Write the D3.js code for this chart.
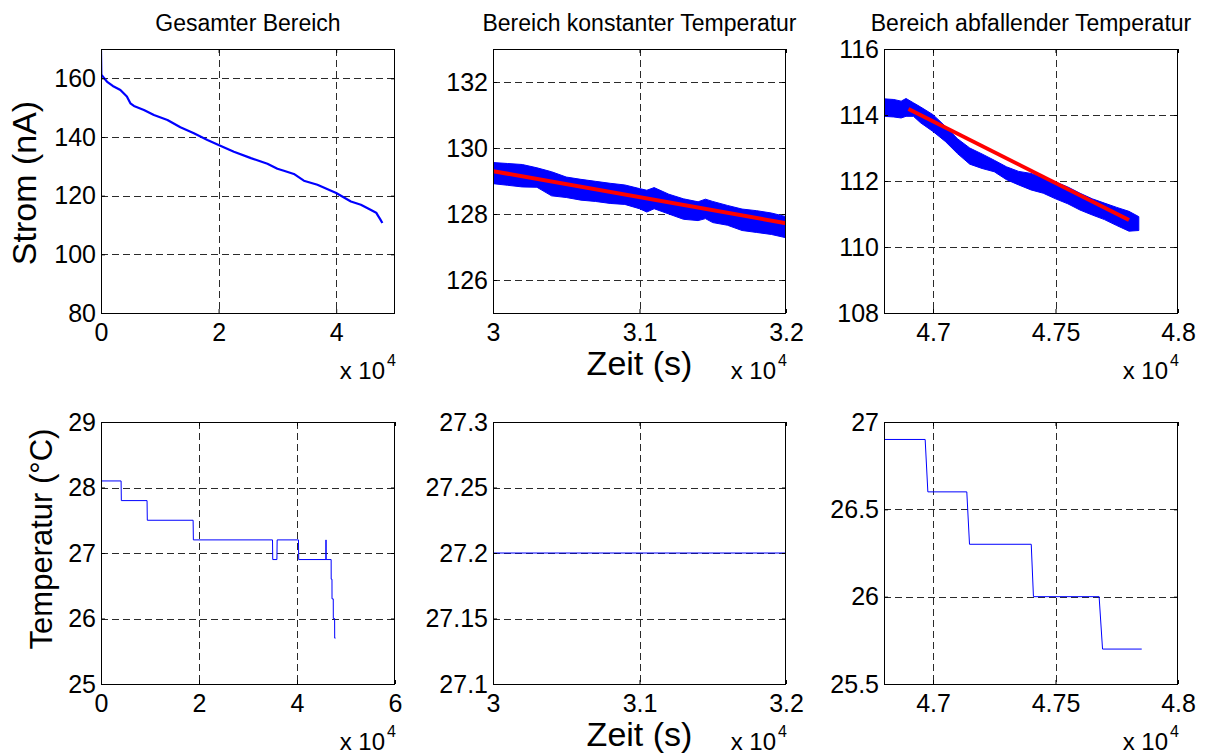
<!DOCTYPE html>
<html>
<head>
<meta charset="utf-8">
<script src="https://cdn.jsdelivr.net/npm/d3@7"></script>
<style>
  html, body { margin: 0; padding: 0; background: #fff; }
  svg { display: block; font-family: "Liberation Sans", Arial, Helvetica, sans-serif; }
</style>
</head>
<body>
<svg id="chart" width="1205" height="755"></svg>
<script>
// ---- measured current over the whole run (time in s, current in nA)
const stromZeit = [0, 60, 1000, 2000, 3300, 4400, 5000, 5600, 7300, 9000, 11300, 13500,
  15800, 18100, 20000, 22600, 25500, 28300, 30000, 31100, 32800, 34500, 36800, 40000,
  42500, 44200, 46000, 46800, 47100, 47500, 47850];
const stromWert = [169.5, 161.2, 158.9, 157.4, 156.0, 153.8, 151.5, 150.6, 149.2, 147.5, 145.8, 143.3,
  141.3, 139.0, 137.3, 135.0, 132.8, 130.9, 129.2, 128.5, 127.4, 125.1, 123.7, 120.9,
  118.0, 116.9, 115.0, 114.2, 113.2, 111.9, 110.7];

// ---- constant-temperature window: min/max envelope of the current and linear fit
const konstZeit = [30000, 30100, 30200, 30300, 30400, 30500, 30600, 30700, 30800, 30900, 31000, 31050,
  31100, 31200, 31300, 31400, 31450, 31500, 31600, 31700, 31800, 31900, 32000];
const konstOben = [129.56, 129.53, 129.50, 129.40, 129.28, 129.12, 129.05, 128.99, 128.93, 128.88, 128.77, 128.72,
  128.80, 128.60, 128.46, 128.37, 128.45, 128.38, 128.26, 128.15, 128.10, 128.03, 127.92];
const konstUnten = [128.92, 128.87, 128.82, 128.81, 128.55, 128.50, 128.42, 128.38, 128.32, 128.29, 128.16, 128.06,
  128.16, 128.00, 127.84, 127.80, 127.86, 127.74, 127.66, 127.50, 127.44, 127.38, 127.28];
const konstFitZeit = [30000, 32000];
const konstFitWert = [129.30, 127.72];

// ---- falling-temperature window: min/max envelope of the current and linear fit
const abfZeit = [46800, 46840, 46870, 46890, 46920, 46950, 47000, 47050, 47100, 47150, 47200, 47250,
  47300, 47350, 47400, 47450, 47500, 47550, 47600, 47650, 47700, 47750, 47800, 47840];
const abfOben = [114.49, 114.47, 114.42, 114.50, 114.37, 114.24, 114.01, 113.66, 113.28, 113.00, 112.82, 112.63,
  112.43, 112.29, 112.23, 112.10, 111.97, 111.82, 111.63, 111.46, 111.33, 111.20, 111.08, 110.92];
const abfUnten = [113.96, 113.94, 113.91, 113.96, 113.96, 113.76, 113.50, 113.20, 112.83, 112.51, 112.38, 112.28,
  112.04, 111.88, 111.73, 111.63, 111.46, 111.31, 111.12, 110.97, 110.83, 110.65, 110.48, 110.50];
const abfFitZeit = [46900, 47800];
const abfFitWert = [114.18, 110.82];

// ---- measured temperature (time in s, temperature in °C)
const tempZeit = [0, 4100, 4150, 9400, 9450, 18800, 18850, 35000, 35050, 35900, 35950, 40300,
  40350, 45900, 45920, 45940, 46968, 46979, 47138, 47149, 47401, 47410, 47678, 47692, 47852];
const tempWert = [28.1, 28.1, 27.8, 27.8, 27.5, 27.5, 27.2, 27.2, 26.9, 26.9, 27.2, 27.2,
  26.9, 26.9, 27.2, 26.9, 26.9, 26.6, 26.6, 26.3, 26.3, 26.0, 26.0, 25.7, 25.7];

// ---- panel titles, axis ranges and tick values
const titles = ["Gesamter Bereich", "Bereich konstanter Temperatur", "Bereich abfallender Temperatur"];
const xDomainsTop = [[0, 50000], [30000, 32000], [46800, 48000]];
const xTicksTop = [[0, 20000, 40000], [30000, 31000, 32000], [47000, 47500, 48000]];
const xDomainsBottom = [[0, 60000], [30000, 32000], [46800, 48000]];
const xTicksBottom = [[0, 20000, 40000, 60000], [30000, 31000, 32000], [47000, 47500, 48000]];
const yDomainsTop = [[80, 170], [125, 133], [108, 116]];
const yTicksTop = [[80, 100, 120, 140, 160], [126, 128, 130, 132], [108, 110, 112, 114, 116]];
const yDomainsBottom = [[25, 29], [27.1, 27.3], [25.5, 27]];
const yTicksBottom = [[25, 26, 27, 28, 29], [27.1, 27.15, 27.2, 27.25, 27.3], [25.5, 26, 26.5, 27]];

// ---- layout
const colX = [[101, 395], [493, 786], [884, 1178]];
const rowY = [[49, 313], [422, 684]];
const TICK_FONT = 25;
const BLUE = "#0000ff";

const svg = d3.select("#chart");
const zip = (a, b) => a.map((v, i) => [v, b[i]]);

const fmtX = d => String(+(d / 1e4).toFixed(6));
const fmtY = d => String(+d.toFixed(6));

function panel(id, col, row, xDom, xTicks, yDom, yTicks) {
  const [x0, x1] = colX[col];
  const [y0, y1] = rowY[row];
  const x = d3.scaleLinear().domain(xDom).range([x0, x1]);
  const y = d3.scaleLinear().domain(yDom).range([y1, y0]);
  const g = svg.append("g");

  g.append("clipPath").attr("id", "clip" + id)
    .append("rect").attr("x", x0).attr("y", y0).attr("width", x1 - x0).attr("height", y1 - y0);

  // dashed grid at interior ticks
  const grid = g.append("g").attr("stroke", "#2b2b2b").attr("stroke-width", 1)
    .attr("stroke-dasharray", "7,4").attr("fill", "none");
  xTicks.filter(t => t > xDom[0] && t < xDom[1]).forEach(t => {
    const px = Math.round(x(t)) + 0.5;
    grid.append("line").attr("x1", px).attr("x2", px).attr("y1", y0).attr("y2", y1);
  });
  yTicks.filter(t => t > yDom[0] && t < yDom[1]).forEach(t => {
    const py = Math.round(y(t)) + 0.5;
    grid.append("line").attr("x1", x0).attr("x2", x1).attr("y1", py).attr("y2", py);
  });

  const data = g.append("g").attr("clip-path", `url(#clip${id})`);

  // axes: labelled left/bottom, inward ticks on all four sides
  const styleAxis = sel => {
    sel.attr("font-family", null).attr("font-size", TICK_FONT);
    sel.select(".domain").remove();
    sel.selectAll("text").attr("fill", "#000");
    sel.selectAll("line").attr("stroke", "#000");
  };
  g.append("g").attr("transform", `translate(${x0},0)`)
    .call(d3.axisLeft(y).tickValues(yTicks).tickFormat(fmtY).tickSizeInner(-4).tickSizeOuter(0).tickPadding(5))
    .call(styleAxis);
  g.append("g").attr("transform", `translate(0,${y1})`)
    .call(d3.axisBottom(x).tickValues(xTicks).tickFormat(fmtX).tickSizeInner(-4).tickSizeOuter(0).tickPadding(10))
    .call(styleAxis);
  g.append("g").attr("transform", `translate(${x1},0)`)
    .call(d3.axisRight(y).tickValues(yTicks).tickFormat("").tickSizeInner(-4).tickSizeOuter(0))
    .call(styleAxis);
  g.append("g").attr("transform", `translate(0,${y0})`)
    .call(d3.axisTop(x).tickValues(xTicks).tickFormat("").tickSizeInner(-4).tickSizeOuter(0))
    .call(styleAxis);

  // box
  g.append("rect").attr("x", x0 + 0.5).attr("y", y0 + 0.5)
    .attr("width", x1 - x0 - 1).attr("height", y1 - y0)
    .attr("fill", "none").attr("stroke", "#000").attr("stroke-width", 1);

  // x 10^4 multiplier
  g.append("text").attr("x", x1 - 10).attr("y", y1 + 66).attr("text-anchor", "end")
    .attr("font-size", 24).text("x 10");
  g.append("text").attr("x", x1 - 8).attr("y", y1 + 53).attr("font-size", 16).text("4");

  return { x, y, data, x0, x1, y0, y1 };
}

const line = (p) => d3.line().x(d => p.x(d[0])).y(d => p.y(d[1]));
const band = (p) => d3.area().x(d => p.x(d[0])).y0(d => p.y(d[1])).y1(d => p.y(d[2]));

// ---- top row: current
const p1 = panel(1, 0, 0, xDomainsTop[0], xTicksTop[0], yDomainsTop[0], yTicksTop[0]);
p1.data.append("path").datum(zip(stromZeit, stromWert))
  .attr("d", line(p1)).attr("fill", "none").attr("stroke", BLUE).attr("stroke-width", 2.2)
  .attr("stroke-linejoin", "round");

const p2 = panel(2, 1, 0, xDomainsTop[1], xTicksTop[1], yDomainsTop[1], yTicksTop[1]);
p2.data.append("path").datum(konstZeit.map((t, i) => [t, konstUnten[i], konstOben[i]]))
  .attr("d", band(p2)).attr("fill", BLUE).attr("stroke", BLUE).attr("stroke-width", 1);
p2.data.append("path").datum(zip(konstFitZeit, konstFitWert))
  .attr("d", line(p2)).attr("fill", "none").attr("stroke", "#ff0000").attr("stroke-width", 4);

const p3 = panel(3, 2, 0, xDomainsTop[2], xTicksTop[2], yDomainsTop[2], yTicksTop[2]);
p3.data.append("path").datum(abfZeit.map((t, i) => [t, abfUnten[i], abfOben[i]]))
  .attr("d", band(p3)).attr("fill", BLUE).attr("stroke", BLUE).attr("stroke-width", 1);
p3.data.append("path").datum(zip(abfFitZeit, abfFitWert))
  .attr("d", line(p3)).attr("fill", "none").attr("stroke", "#ff0000").attr("stroke-width", 4);

// ---- bottom row: temperature
[0, 1, 2].forEach(c => {
  const p = panel(4 + c, c, 1, xDomainsBottom[c], xTicksBottom[c], yDomainsBottom[c], yTicksBottom[c]);
  p.data.append("path").datum(zip(tempZeit, tempWert))
    .attr("d", line(p)).attr("fill", "none").attr("stroke", BLUE).attr("stroke-width", 1);
});

// ---- titles and axis labels
titles.forEach((t, c) => {
  svg.append("text").attr("x", (colX[c][0] + colX[c][1]) / 2).attr("y", 31)
    .attr("text-anchor", "middle").attr("font-size", 23).text(t);
});
[rowY[0][1] + 62, rowY[1][1] + 62].forEach(yy => {
  svg.append("text").attr("x", (colX[1][0] + colX[1][1]) / 2).attr("y", yy)
    .attr("text-anchor", "middle").attr("font-size", 34).text("Zeit (s)");
});
svg.append("text").attr("transform", "translate(36,183) rotate(-90)")
  .attr("text-anchor", "middle").attr("font-size", 34).text("Strom (nA)");
svg.append("text").attr("transform", "translate(52,539) rotate(-90)")
  .attr("text-anchor", "middle").attr("font-size", 31).text("Temperatur (°C)");
</script>
</body>
</html>
